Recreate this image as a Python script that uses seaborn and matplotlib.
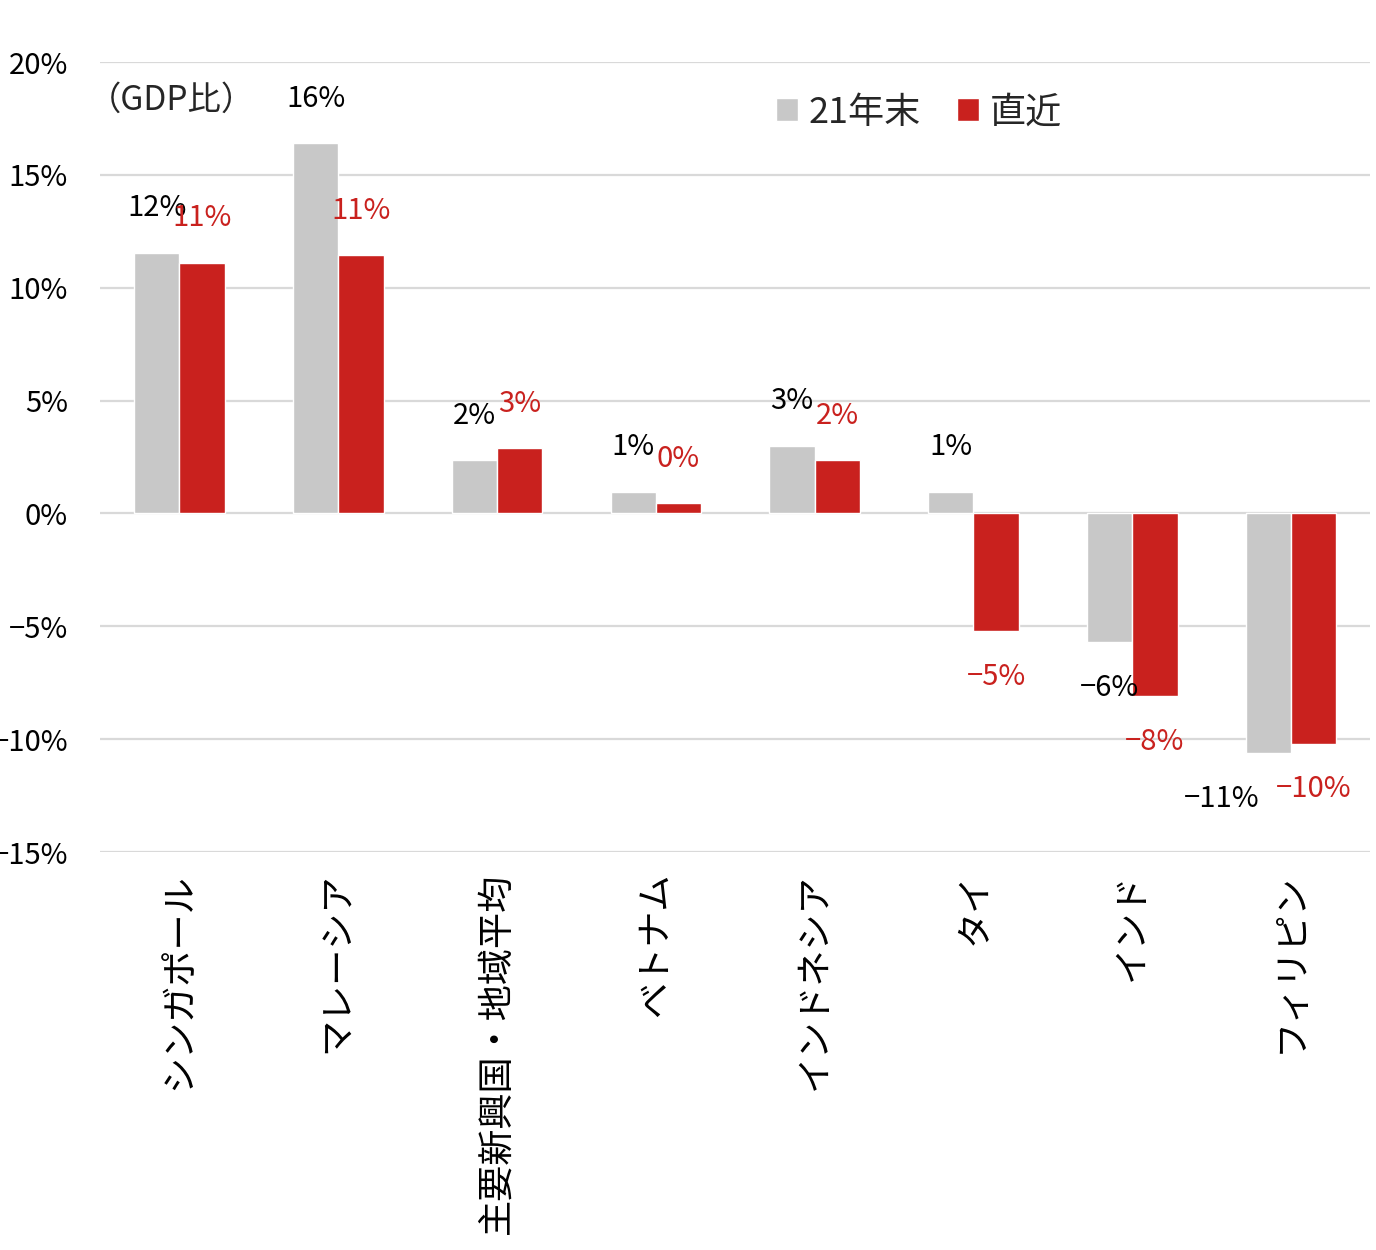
import matplotlib
matplotlib.use("Agg")
import matplotlib.pyplot as plt
from matplotlib.ticker import FuncFormatter, MultipleLocator
import seaborn as sns
import pandas as pd

categories = ["シンガポール", "マレーシア", "主要新興国・地域平均", "ベトナム",
              "インドネシア", "タイ", "インド", "フィリピン"]
series_names = ["21年末", "直近"]
values_end21 = [11.55, 16.4, 2.35, 0.97, 3.0, 0.97, -5.7, -10.6]
values_latest = [11.1, 11.45, 2.9, 0.44, 2.35, -5.2, -8.1, -10.2]
unit_note = "（GDP比）"

GRAY = "#C8C8C8"
RED = "#C9211E"

sns.set_theme(style="white")
plt.rcParams["font.family"] = ["Noto Sans CJK JP", "DejaVu Sans"]
plt.rcParams["axes.unicode_minus"] = True

df = pd.DataFrame({
    "country": categories * 2,
    "series": [series_names[0]] * len(categories) + [series_names[1]] * len(categories),
    "value": values_end21 + values_latest,
})

fig = plt.figure(figsize=(13.76, 12.5), dpi=100)
ax = fig.add_axes([0.0727, 0.3184, 0.9233, 0.632])

sns.barplot(data=df, x="country", y="value", hue="series", order=categories,
            hue_order=series_names, palette=[GRAY, RED], width=0.57,
            dodge=True, gap=0, saturation=1, errorbar=None, ax=ax, zorder=3)

ax.set_ylim(-15, 20)
ax.set_xlim(-0.5, len(categories) - 0.5)
ax.yaxis.set_major_locator(MultipleLocator(5))
ax.yaxis.set_major_formatter(FuncFormatter(lambda v, p: f"{v:.0f}%".replace("-", "\u2212")))
ax.grid(axis="y", color="#D9D9D9", linewidth=1.6, zorder=0)
ax.set_axisbelow(True)
for s in ax.spines.values():
    s.set_visible(False)
ax.set_xlabel("")
ax.set_ylabel("")
ax.tick_params(axis="y", labelsize=21, length=0, pad=23, labelcolor="black")
ax.tick_params(axis="x", labelsize=26, length=0, pad=15, labelcolor="black")
plt.setp(ax.get_xticklabels(), rotation=90, ha="center", va="top")

label_colors = ["black", RED]
n = len(categories)
for si, (cont, col) in enumerate(zip(ax.containers, label_colors)):
    for ci, bar in enumerate(cont):
        v = bar.get_height()
        x = bar.get_x() + bar.get_width() / 2
        txt = f"{round(v):.0f}%".replace("-", "\u2212")
        off_y = 32 if v >= 0 else -33
        # the last gray label sits left of its bar in the original to avoid the red one
        off_x = -34 if (si == 0 and ci == n - 1) else 0
        ax.annotate(txt, xy=(x, v), xytext=(off_x, off_y), textcoords="offset points",
                    ha="center", va="center", fontsize=21, color=col, zorder=5)

leg = ax.legend(loc="center", bbox_to_anchor=(0.668, 0.91), bbox_transform=fig.transFigure,
                ncol=2, frameon=False, fontsize=26, handlelength=0.6, handleheight=0.6,
                handletextpad=0.3, columnspacing=1.0, title=None)

fig.text(0.064, 0.92, unit_note, fontsize=24, ha="left", va="center")

fig.savefig("out.png", dpi=100, facecolor="white")
